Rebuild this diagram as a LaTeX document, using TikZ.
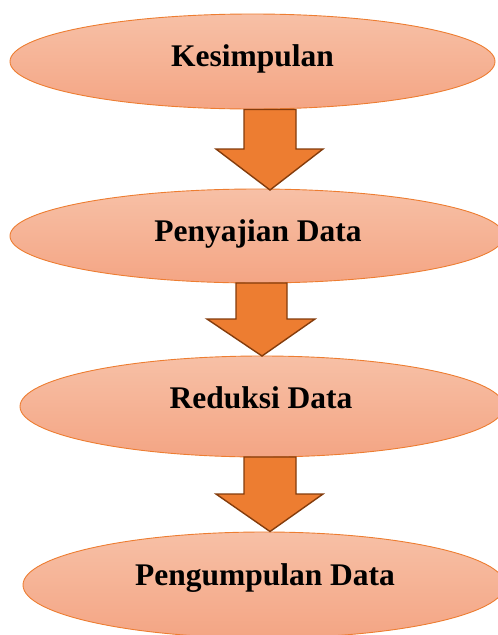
\documentclass[tikz,border=0pt]{standalone}
\usepackage{fontspec}
\setmainfont{Liberation Serif}
\usetikzlibrary{shapes.geometric}
\definecolor{elltop}{RGB}{247,192,166}
\definecolor{ellbot}{RGB}{244,165,132}
\definecolor{ellline}{RGB}{237,125,49}
\definecolor{arrfill}{RGB}{237,125,49}
\definecolor{arrline}{RGB}{132,60,12}
\tikzset{
  stage/.style={ellipse, draw=ellline, line width=0.9pt, top color=elltop, bottom color=ellbot, inner sep=0pt},
  lbl/.style={anchor=base, inner sep=0pt, font=\fontsize{31.5}{36}\selectfont\bfseries},
  blockarrow/.style={fill=arrfill, draw=arrline, line width=1.4pt, line join=miter}
}
\begin{document}
\begin{tikzpicture}[x=1pt,y=-1pt]
\useasboundingbox (0,0) rectangle (498,635);
\begin{scope}
\clip (0,0) rectangle (498,635);
\node[stage, minimum width=485pt, minimum height=95pt] (e1) at (252.5,61.5) {};
\node[stage, minimum width=494pt, minimum height=94pt] (e2) at (257,236) {};
\node[stage, minimum width=484pt, minimum height=101pt] (e3) at (262,406.5) {};
\node[stage, minimum width=482pt, minimum height=106pt] (e4) at (264,585) {};
\end{scope}
\node[lbl] (t1) at (252.5,66) {Kesimpulan};
\node[lbl] (t2) at (258,241) {Penyajian Data};
\node[lbl] (t3) at (261,408.5) {Reduksi Data};
\node[lbl] (t4) at (265,585.5) {Pengumpulan Data};
% block arrows
\draw[blockarrow] (244,109.5) -- (296,109.5) -- (296,149) -- (323,149) -- (270,190) -- (216,149) -- (244,149) -- cycle;
\draw[blockarrow] (236,283) -- (287,283) -- (287,319) -- (315,319) -- (262,356) -- (207,319) -- (236,319) -- cycle;
\draw[blockarrow] (244,457) -- (296,457) -- (296,494) -- (323,494) -- (270,531.5) -- (216,494) -- (244,494) -- cycle;
\end{tikzpicture}
\end{document}
